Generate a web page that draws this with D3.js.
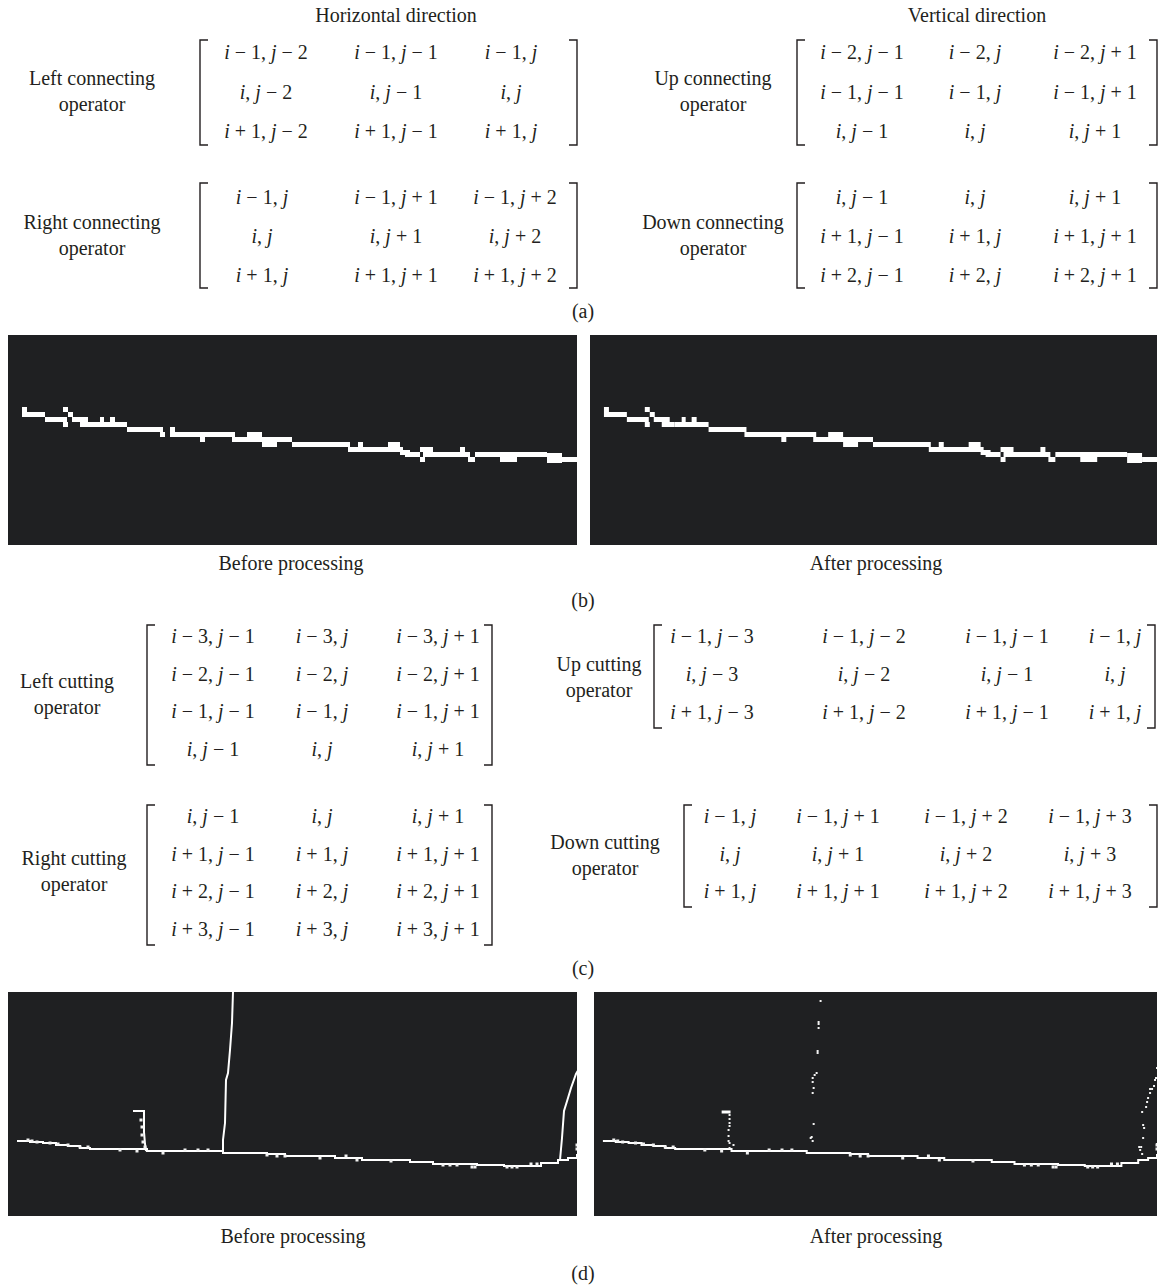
<!DOCTYPE html>
<html>
<head>
<meta charset="utf-8">
<script src="https://cdn.jsdelivr.net/npm/d3@7"></script>
<style>
  body { margin: 0; background: #fff; }
  text { font-family: 'Liberation Serif', 'Times New Roman', serif; fill: #231f20; }
</style>
</head>
<body>
<svg id="fig"></svg>
<script>
/* CONSTANTS AND GLOBALS */
const width = 1165, height = 1288;
const fontSize = 20;
const ink = "#231f20", imgBg = "#1f2022";

/* DATA */
const titles = ["Horizontal direction", "Vertical direction"];
const panelTags = ["(a)", "(b)", "(c)", "(d)"];
const captions = ["Before processing", "After processing"];
const opLabels = [
  ["Left connecting", "operator"], ["Up connecting", "operator"],
  ["Right connecting", "operator"], ["Down connecting", "operator"],
  ["Left cutting", "operator"], ["Up cutting", "operator"],
  ["Right cutting", "operator"], ["Down cutting", "operator"]
];

// matrix entries, "-" and "+" become spaced operators, i and j are set in italic
const leftConnecting = [["i-1,j-2", "i-1,j-1", "i-1,j"], ["i,j-2", "i,j-1", "i,j"], ["i+1,j-2", "i+1,j-1", "i+1,j"]];
const upConnecting = [["i-2,j-1", "i-2,j", "i-2,j+1"], ["i-1,j-1", "i-1,j", "i-1,j+1"], ["i,j-1", "i,j", "i,j+1"]];
const rightConnecting = [["i-1,j", "i-1,j+1", "i-1,j+2"], ["i,j", "i,j+1", "i,j+2"], ["i+1,j", "i+1,j+1", "i+1,j+2"]];
const downConnecting = [["i,j-1", "i,j", "i,j+1"], ["i+1,j-1", "i+1,j", "i+1,j+1"], ["i+2,j-1", "i+2,j", "i+2,j+1"]];
const leftCutting = [["i-3,j-1", "i-3,j", "i-3,j+1"], ["i-2,j-1", "i-2,j", "i-2,j+1"], ["i-1,j-1", "i-1,j", "i-1,j+1"], ["i,j-1", "i,j", "i,j+1"]];
const upCutting = [["i-1,j-3", "i-1,j-2", "i-1,j-1", "i-1,j"], ["i,j-3", "i,j-2", "i,j-1", "i,j"], ["i+1,j-3", "i+1,j-2", "i+1,j-1", "i+1,j"]];
const rightCutting = [["i,j-1", "i,j", "i,j+1"], ["i+1,j-1", "i+1,j", "i+1,j+1"], ["i+2,j-1", "i+2,j", "i+2,j+1"], ["i+3,j-1", "i+3,j", "i+3,j+1"]];
const downCutting = [["i-1,j", "i-1,j+1", "i-1,j+2", "i-1,j+3"], ["i,j", "i,j+1", "i,j+2", "i,j+3"], ["i+1,j", "i+1,j+1", "i+1,j+2", "i+1,j+3"]];

// (b) binary edge, white pixel blocks [x, y, w, h] in image units (569 x 210)
const edgeBefore = [
  [14,72,5,5],[14,77,23,5],[37,82,22,5],[55,72,5,5],[60,77,5,5],[55,87,5,5],
  [64,82,16,5],[72,87,13,5],[85,87,34,5],[92,82,4,5],[102,82,5,5],
  [119,92,36,5],[152,97,5,5],[162,92,5,10],[162,97,65,5],[192,102,5,5],
  [224,102,60,5],[239,97,15,5],[254,107,15,5],[284,107,58,5],
  [340,112,55,5],[350,107,5,5],[380,107,12,5],[392,115,10,5],
  [397,117,15,5],[412,122,5,5],[412,112,13,5],[415,117,47,5],[452,112,5,5],
  [460,122,7,5],[467,117,72,5],[492,122,17,5],[539,118,15,10],[554,122,15,5]
];
const edgeAfter = [
  [14,72,5,5],[14,77,23,5],[37,82,22,5],[55,72,5,5],[60,77,5,5],[55,87,5,5],
  [64,82,16,5],[72,87,13,5],[85,87,34,5],[92,82,4,5],[102,82,5,5],
  [119,92,36,5],[152,92,5,5],[155,97,72,5],[192,102,5,5],
  [224,102,60,5],[239,97,15,5],[254,107,15,5],[284,107,58,5],
  [340,112,55,5],[350,107,5,5],[380,107,12,5],[392,115,10,5],
  [397,117,15,5],[412,122,5,5],[412,112,13,5],[415,117,47,5],[452,112,5,5],
  [460,122,7,5],[467,117,72,5],[492,122,17,5],[539,118,15,10],[554,122,15,5]
];

// (d) track lines in image units (569 x 224)
const baseline = [[9,149],[22,150],[35,151],[48,153],[60,154],[72,156],[82,157],[139,159],[215,161],
  [259,162],[277,164],[327,166],[354,168],[402,170],[425,172],[469,173],[496,174],[533,171],
  [550,168],[560,166],[569,163],[572,163]];
const speckles = [[20,148],[24,149],[29,150],[42,151],[50,152],[60,153],[72,155],[80,155],[112,158],
  [129,159],[155,161],[177,158],[190,158],[200,158],[259,163],[269,164],[277,164],[312,166],
  [338,164],[349,168],[383,169],[435,173],[442,173],[449,173],[464,175],[467,175],[499,175],
  [504,175],[509,175],[523,172],[529,172],[569,153],[569,157]];
const towerLine = [[125,119],[136,119],[136,140],[137,152],[138,159]];
const towerSpeckles = [[133,128],[134,135],[134,143],[135,150],[137,155]];
const tallLine = [[225,0],[224,31],[222,58],[220,81],[218,88],[217,131],[215,148],[215,160]];
const curveLine = [[552,168],[554,146],[556,119],[560,106],[563,96],[568,82],[572,75]];
const towerTopAfter = [[129,120],[138,120]];
const dotsAfter = [
  [229,9],[227,30],[227,32],[227,36],[226,59],[226,61],[225,81],[223,83],[221,86],[221,90],[222,96],
  [221,101],[222,132],[220,145],[219,146],[221,149],
  [137,123],[137,127],[137,131],[137,134],[136,138],[136,144],[136,149],[137,151],[141,153],[137,156],
  [551,155],[553,155],[552,158],[554,162],[555,146],[555,133],[556,136],[554,120],[558,115],
  [559,110],[560,106],[562,101],[562,97],[564,97],[566,94],[567,88],[568,86],[569,76],[569,152]
];

/* LAYOUT */
const matrixLayout = [
  { m: leftConnecting, label: opLabels[0], lx: 92, ly: 91, bx: [200, 577], by: [40, 145], cols: [266, 396, 511], rows: [52, 131] },
  { m: upConnecting, label: opLabels[1], lx: 713, ly: 91, bx: [797, 1157], by: [40, 145], cols: [862, 975, 1095], rows: [52, 131] },
  { m: rightConnecting, label: opLabels[2], lx: 92, ly: 235, bx: [200, 577], by: [183, 288], cols: [262, 396, 515], rows: [197, 275] },
  { m: downConnecting, label: opLabels[3], lx: 713, ly: 235, bx: [797, 1157], by: [183, 288], cols: [862, 975, 1095], rows: [197, 275] },
  { m: leftCutting, label: opLabels[4], lx: 67, ly: 694, bx: [147, 492], by: [625, 765], cols: [213, 322, 438], rows: [636, 749] },
  { m: upCutting, label: opLabels[5], lx: 599, ly: 677, bx: [654, 1155], by: [625, 728], cols: [712, 864, 1007, 1115], rows: [636, 712] },
  { m: rightCutting, label: opLabels[6], lx: 74, ly: 871, bx: [147, 492], by: [805, 945], cols: [213, 322, 438], rows: [816, 929] },
  { m: downCutting, label: opLabels[7], lx: 605, ly: 855, bx: [684, 1157], by: [805, 907], cols: [730, 838, 966, 1090], rows: [816, 891] }
];

/* ELEMENTS */
const svg = d3.select("#fig").attr("width", width).attr("height", height);
svg.append("rect").attr("width", width).attr("height", height).attr("fill", "#fff");

function textAt(g, x, y, str) {
  return g.append("text")
    .attr("x", x).attr("y", y)
    .attr("text-anchor", "middle")
    .attr("dominant-baseline", "central")
    .attr("font-size", fontSize)
    .text(str);
}

// split "i-1,j+2" into upright / italic pieces
function entryParts(str) {
  const parts = [];
  for (const ch of str) {
    if (ch === "i" || ch === "j") parts.push({ t: ch, it: true });
    else if (ch === "-") parts.push({ t: "\u00a0\u2212\u00a0", it: false });
    else if (ch === "+") parts.push({ t: "\u00a0+\u00a0", it: false });
    else if (ch === ",") parts.push({ t: ",\u00a0", it: false });
    else parts.push({ t: ch, it: false });
  }
  return parts;
}

// titles and panel tags
textAt(svg, 396, 15, titles[0]);
textAt(svg, 977, 15, titles[1]);
[[311], [600], [968], [1273]].forEach((d, i) => textAt(svg, 583, d[0], panelTags[i]));

// matrices
matrixLayout.forEach(L => {
  const g = svg.append("g");
  const xCol = d3.scaleOrdinal().domain(d3.range(L.cols.length)).range(L.cols);
  const yRow = d3.scalePoint().domain(d3.range(L.m.length)).range(L.rows);

  textAt(g, L.lx, L.ly - 13, L.label[0]);
  textAt(g, L.lx, L.ly + 13, L.label[1]);

  const serif = 8;
  g.append("path")
    .attr("d", `M${L.bx[0] + serif},${L.by[0]}H${L.bx[0]}V${L.by[1]}H${L.bx[0] + serif}`)
    .attr("fill", "none").attr("stroke", ink).attr("stroke-width", 1.4);
  g.append("path")
    .attr("d", `M${L.bx[1] - serif},${L.by[0]}H${L.bx[1]}V${L.by[1]}H${L.bx[1] - serif}`)
    .attr("fill", "none").attr("stroke", ink).attr("stroke-width", 1.4);

  const cells = L.m.flatMap((row, r) => row.map((v, c) => ({ v, r, c })));
  g.selectAll("text.cell")
    .data(cells)
    .join("text")
      .attr("class", "cell")
      .attr("x", d => xCol(d.c))
      .attr("y", d => yRow(d.r))
      .attr("text-anchor", "middle")
      .attr("dominant-baseline", "central")
      .attr("font-size", fontSize)
    .selectAll("tspan")
    .data(d => entryParts(d.v))
    .join("tspan")
      .attr("font-style", d => d.it ? "italic" : null)
      .text(d => d.t);
});

// image panels
function panel(x0, y0, w, h, id, domainH) {
  const g = svg.append("g").attr("transform", `translate(${x0},${y0})`);
  svg.append("clipPath").attr("id", id)
    .append("rect").attr("x", x0).attr("y", y0).attr("width", w).attr("height", h);
  g.append("rect").attr("width", w).attr("height", h).attr("fill", imgBg);
  const inner = g.append("g").attr("clip-path", null);
  const clip = g.append("clipPath").attr("id", id + "c");
  clip.append("rect").attr("width", w).attr("height", h);
  const body = g.append("g").attr("clip-path", `url(#${id}c)`);
  const x = d3.scaleLinear().domain([0, 569]).range([0, w]);
  const y = d3.scaleLinear().domain([0, domainH]).range([0, h]);
  return { body, x, y };
}

function drawBlocks(p, blocks) {
  p.body.selectAll("rect.px")
    .data(blocks)
    .join("rect")
      .attr("class", "px")
      .attr("x", d => p.x(d[0]))
      .attr("y", d => p.y(d[1]))
      .attr("width", d => p.x(d[0] + d[2]) - p.x(d[0]))
      .attr("height", d => p.y(d[1] + d[3]) - p.y(d[1]))
      .attr("fill", "#fff");
}

function drawLine(p, pts, curve, sw) {
  const line = d3.line().x(d => p.x(d[0])).y(d => p.y(d[1])).curve(curve);
  p.body.append("path").attr("d", line(pts))
    .attr("fill", "none").attr("stroke", "#fff").attr("stroke-width", sw);
}

function drawDots(p, pts, s) {
  p.body.append("g").selectAll("rect")
    .data(pts)
    .join("rect")
      .attr("x", d => p.x(d[0]) - s / 2)
      .attr("y", d => p.y(d[1]) - s / 2)
      .attr("width", s).attr("height", s)
      .attr("fill", "#f2f2f2");
}

// (b)
const b1 = panel(8, 335, 569, 210, "pb1", 210);
drawBlocks(b1, edgeBefore);
const b2 = panel(590, 335, 567, 210, "pb2", 210);
drawBlocks(b2, edgeAfter);
textAt(svg, 291, 563, captions[0]);
textAt(svg, 876, 563, captions[1]);

// (d)
const d1 = panel(8, 992, 569, 224, "pd1", 224);
drawLine(d1, baseline, d3.curveStepAfter, 2);
drawDots(d1, speckles, 3);
drawLine(d1, towerLine, d3.curveLinear, 2);
drawDots(d1, towerSpeckles, 3);
drawLine(d1, tallLine, d3.curveLinear, 2);
drawLine(d1, curveLine, d3.curveLinear, 2);

const d2 = panel(594, 992, 563, 224, "pd2", 224);
drawLine(d2, baseline, d3.curveStepAfter, 2);
drawDots(d2, speckles, 3);
drawLine(d2, towerTopAfter, d3.curveLinear, 3);
drawDots(d2, dotsAfter, 2);
textAt(svg, 293, 1236, captions[0]);
textAt(svg, 876, 1236, captions[1]);
</script>
</body>
</html>
